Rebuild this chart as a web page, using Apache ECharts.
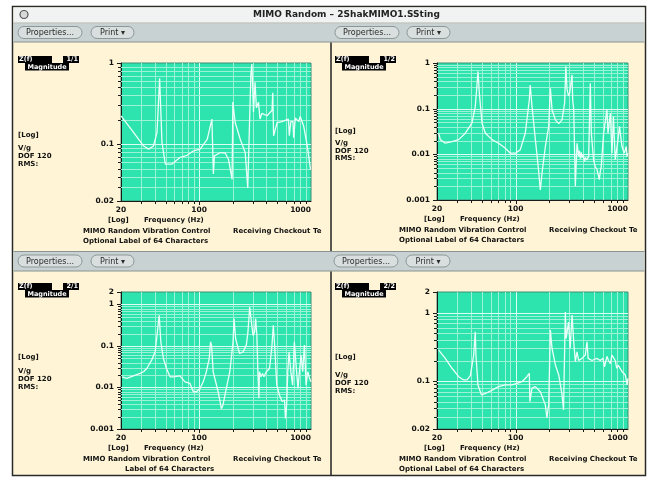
<!DOCTYPE html>
<html>
<head>
<meta charset="utf-8">
<script src="https://cdn.jsdelivr.net/npm/echarts@6/dist/echarts.min.js"></script>
<style>
  html, body { margin: 0; padding: 0; background: #ffffff; }
  #c { width: 654px; height: 482px; }
</style>
</head>
<body>
<div id="c"></div>
<script>
// ---- Frequency response magnitudes (V/g) for each drive/response pair ----
const freq11 = [20, 25.9, 31.9, 35.3, 39, 42, 44.3, 46.5, 49.8, 51.6, 57.2, 67.8, 77.9, 89.2, 102, 118, 130, 134, 137, 155, 171, 183, 197, 200, 210, 233, 258, 272, 278, 290, 296, 306, 316, 325, 339, 350, 364, 404, 448, 455, 463, 498, 550, 628, 640, 660, 690, 700, 724, 778, 800, 862, 926, 990];
const mag11  = [0.224, 0.14, 0.095, 0.087, 0.095, 0.14, 0.65, 0.105, 0.057, 0.054, 0.057, 0.069, 0.073, 0.083, 0.087, 0.115, 0.204, 0.043, 0.072, 0.079, 0.078, 0.065, 0.037, 0.33, 0.185, 0.115, 0.079, 0.029, 0.087, 0.73, 0.97, 0.25, 0.58, 0.28, 0.33, 0.204, 0.24, 0.224, 0.26, 0.43, 0.127, 0.185, 0.19, 0.204, 0.127, 0.19, 0.19, 0.12, 0.21, 0.19, 0.22, 0.165, 0.095, 0.049];

const freq12 = [20.7, 21.4, 23.7, 27.2, 31.2, 35.7, 40.9, 43.8, 45.3, 46.3, 47.6, 50.3, 53.9, 61.7, 70.7, 81.1, 89.8, 99.5, 110, 122, 132.5, 135, 140, 150, 160, 166, 172, 184, 197, 204, 211, 226, 242, 259, 273, 280, 287, 296, 303, 318, 322, 329, 340, 352, 364, 370, 377, 384, 390, 400, 410, 418, 430, 447, 462, 472, 494, 510, 530, 545, 556, 567, 578, 607, 650, 664, 697, 720, 742, 770, 815, 840, 884, 927, 965, 980, 1000];
const mag12  = [0.029, 0.021, 0.0175, 0.019, 0.021, 0.029, 0.048, 0.112, 0.31, 0.66, 0.22, 0.048, 0.029, 0.021, 0.0175, 0.0136, 0.0106, 0.0106, 0.0125, 0.029, 0.157, 0.33, 0.112, 0.021, 0.0046, 0.00166, 0.0039, 0.0148, 0.041, 0.28, 0.095, 0.057, 0.047, 0.057, 0.132, 0.85, 0.26, 0.19, 0.22, 0.55, 0.157, 0.095, 0.002, 0.0175, 0.009, 0.012, 0.008, 0.011, 0.0085, 0.0095, 0.007, 0.0085, 0.0075, 0.009, 0.36, 0.029, 0.0076, 0.0055, 0.0046, 0.0035, 0.0028, 0.0042, 0.0054, 0.029, 0.095, 0.029, 0.08, 0.0106, 0.068, 0.0076, 0.021, 0.041, 0.0148, 0.0106, 0.0148, 0.009, 0.0106];

const freq21 = [20.4, 22.5, 25.8, 29.7, 31.8, 34, 37.6, 40.4, 42.3, 43.9, 45.4, 47.9, 51, 54.9, 58.8, 67.2, 74.7, 82.8, 85.5, 88.6, 94.9, 101.6, 108.7, 116, 123, 126.5, 129, 133.4, 147.8, 158, 163, 175, 188, 201, 205, 212, 223, 230, 247, 264, 273, 283, 292, 303, 313, 320, 328, 335, 342, 346, 357, 369, 380, 398, 426, 448, 460, 473, 494, 522, 552, 580, 591, 605, 620, 636, 660, 685, 710, 735, 765, 787, 815, 843, 873, 904, 935, 968, 1000];
const mag21  = [0.0181, 0.0165, 0.019, 0.0218, 0.024, 0.0287, 0.0455, 0.0723, 0.218, 0.55, 0.126, 0.05, 0.0287, 0.0181, 0.0181, 0.019, 0.0137, 0.0125, 0.0137, 0.0079, 0.0079, 0.0095, 0.0137, 0.024, 0.05, 0.126, 0.105, 0.024, 0.0079, 0.0031, 0.0037, 0.0095, 0.024, 0.126, 0.457, 0.15, 0.087, 0.066, 0.072, 0.105, 0.218, 0.87, 0.417, 0.18, 0.218, 0.457, 0.18, 0.024, 0.0055, 0.024, 0.0181, 0.0218, 0.0181, 0.024, 0.0287, 0.105, 0.316, 0.105, 0.0114, 0.0066, 0.0046, 0.005, 0.0018, 0.0037, 0.024, 0.072, 0.024, 0.0114, 0.126, 0.035, 0.0095, 0.024, 0.06, 0.024, 0.105, 0.0114, 0.024, 0.017, 0.0137];

const freq22 = [20.7, 23.7, 27.2, 31.2, 34.5, 37, 39.6, 42.4, 43.8, 44.4, 46.3, 49.7, 54, 61.9, 70.6, 81, 93, 103, 114, 126, 132.5, 134, 140, 150, 166, 184, 190, 197, 204, 211, 226, 242, 259, 267, 277, 282, 296, 306, 318, 329, 340, 352, 364, 390, 417, 432, 442, 478, 528, 566, 585, 598, 618, 650, 670, 697, 720, 770, 794, 820, 884, 947, 980, 1000];
const mag22  = [0.284, 0.215, 0.154, 0.116, 0.104, 0.104, 0.12, 0.24, 0.525, 0.24, 0.088, 0.063, 0.066, 0.074, 0.083, 0.088, 0.088, 0.093, 0.098, 0.116, 0.13, 0.05, 0.079, 0.083, 0.07, 0.045, 0.029, 0.045, 0.555, 0.3, 0.172, 0.123, 0.063, 0.038, 1.02, 0.42, 0.73, 0.3, 0.92, 0.375, 0.192, 0.267, 0.2, 0.215, 0.24, 0.375, 0.215, 0.2, 0.215, 0.2, 0.192, 0.215, 0.162, 0.23, 0.2, 0.18, 0.24, 0.2, 0.154, 0.17, 0.138, 0.123, 0.088, 0.11];

// ---- Axis ranges ----
const freqRange = [20, 1000];
const magRange11 = [0.02, 1];
const magRange12 = [0.001, 1];
const magRange21 = [0.001, 2];
const magRange22 = [0.02, 2];

// ---- Grid line frequencies on the log frequency axis ----
const xGridFreqs = [30, 40, 50, 60, 70, 80, 90, 100, 200, 300, 400, 500, 600, 700, 800, 900];
const xMajorFreqs = [100];

// ---- Panel texts ----
const panelIds = ['1/1', '1/2', '2/1', '2/2'];
const bottomNotes = ['Optional Label of 64 Characters', 'Optional Label of 64 Characters', 'Label of 64 Characters', 'Optional Label of 64 Characters'];
const windowTitle = 'MIMO Random \u2013 2ShakMIMO1.SSting';

const FONT = '"DejaVu Sans", Verdana, sans-serif';
const CREAM = '#fff5d6';
const BAR = '#c9d2d2';
const PLOT = '#2ee4ae';

// Plot rectangles (left, top, width, height) for the four panels
const plotBoxes = [
  [121, 63, 190, 138],
  [437, 63, 191, 137],
  [121, 292, 190, 137],
  [437, 292, 191, 137]
];

const panels = [
  { f: freq11, m: mag11, r: magRange11 },
  { f: freq12, m: mag12, r: magRange12 },
  { f: freq21, m: mag21, r: magRange21 },
  { f: freq22, m: mag22, r: magRange22 }
];

function gridItems(yr) {
  const items = [];
  xGridFreqs.forEach(f => items.push([f, yr[0], 0, xMajorFreqs.indexOf(f) >= 0 ? 1 : 0]));
  const d0 = Math.floor(Math.log10(yr[0]) + 1e-9), d1 = Math.ceil(Math.log10(yr[1]) - 1e-9);
  for (let d = d0; d <= d1; d++) {
    for (let k = 1; k <= 9; k++) {
      const v = +(k * Math.pow(10, d)).toPrecision(4);
      if (v > yr[0] * 1.0001 && v < yr[1] * 0.9999) items.push([freqRange[0], v, 1, k === 1 ? 1 : 0]);
      else if (Math.abs(v - yr[0]) / yr[0] < 1e-4 || Math.abs(v - yr[1]) / yr[1] < 1e-4) items.push([freqRange[0], v, 2, 1]);
    }
  }
  return items;
}

function renderGrid(params, api) {
  const cs = params.coordSys;
  const kind = api.value(2), major = api.value(3);
  const p = api.coord([api.value(0), api.value(1)]);
  const stroke = major ? '#dcfff3' : '#9cf2d5';
  if (kind === 0) {
    const x = Math.round(p[0]) + 0.5, yb = cs.y + cs.height;
    return { type: 'group', children: [
      { type: 'line', shape: { x1: x, y1: cs.y, x2: x, y2: yb }, style: { stroke, lineWidth: 1 } },
      { type: 'line', shape: { x1: x, y1: yb, x2: x, y2: yb + (major ? 4 : 3) }, style: { stroke: '#1a1a1a', lineWidth: 1 } }
    ] };
  }
  const y = Math.round(p[1]) + 0.5, xl = cs.x;
  const children = [
    { type: 'line', shape: { x1: xl - (major ? 4 : 3), y1: y, x2: xl, y2: y }, style: { stroke: '#1a1a1a', lineWidth: 1 } }
  ];
  if (kind === 1) children.push({ type: 'line', shape: { x1: xl, y1: y, x2: xl + cs.width, y2: y }, style: { stroke, lineWidth: 1 } });
  return { type: 'group', children };
}

const fmt = v => String(+(+v).toPrecision(6));

const grid = [], xAxis = [], yAxis = [], series = [];
panels.forEach((p, i) => {
  const b = plotBoxes[i];
  grid.push({ left: b[0], top: b[1], width: b[2], height: b[3], show: true, backgroundColor: PLOT, borderColor: '#3f8c76', borderWidth: 1, containLabel: false });
  xAxis.push({
    type: 'log', logBase: 10, gridIndex: i, min: freqRange[0], max: freqRange[1],
    axisLine: { show: true, lineStyle: { color: '#1a1a1a', width: 1 } },
    axisTick: { show: false }, splitLine: { show: false },
    axisLabel: { show: true, margin: 5, fontSize: 7.5, fontWeight: 'bold', fontFamily: FONT, color: '#111', formatter: fmt, showMinLabel: true, showMaxLabel: true, alignMaxLabel: 'right' }
  });
  yAxis.push({
    type: 'log', logBase: 10, gridIndex: i, min: p.r[0], max: p.r[1],
    axisLine: { show: true, lineStyle: { color: '#1a1a1a', width: 1 } },
    axisTick: { show: false }, splitLine: { show: false },
    axisLabel: { show: true, margin: 7, fontSize: 7.5, fontWeight: 'bold', fontFamily: FONT, color: '#111', formatter: fmt, showMinLabel: true, showMaxLabel: true }
  });
  series.push({
    type: 'custom', xAxisIndex: i, yAxisIndex: i, z: 1, silent: true, clip: false, animation: false,
    data: gridItems(p.r), renderItem: renderGrid
  });
  series.push({
    type: 'line', xAxisIndex: i, yAxisIndex: i, z: 3, silent: true, animation: false,
    showSymbol: false, symbol: 'none', clip: true,
    lineStyle: { color: '#e9fff7', width: 1.3 },
    data: p.f.map((f, k) => [f, p.m[k]])
  });
});

// ---- Window chrome ----
const g = [];
function rect(x, y, w, h, fill, o) {
  o = o || {};
  g.push({ type: 'rect', z: o.z !== undefined ? o.z : -10, silent: true,
    shape: { x, y, width: w, height: h, r: o.r || 0 },
    style: { fill, stroke: o.stroke || null, lineWidth: o.lw || 1 } });
}
function hline(x1, x2, y, stroke, lw, z) {
  g.push({ type: 'line', z: z !== undefined ? z : -9, silent: true, shape: { x1, y1: y, x2, y2: y }, style: { stroke, lineWidth: lw || 1 } });
}
function vline(x, y1, y2, stroke, lw, z) {
  g.push({ type: 'line', z: z !== undefined ? z : -9, silent: true, shape: { x1: x, y1, x2: x, y2 }, style: { stroke, lineWidth: lw || 1 } });
}
function text(x, y, s, size, o) {
  o = o || {};
  g.push({ type: 'text', z: 20, silent: true, x, y,
    style: { text: s, font: (o.weight || 'bold') + ' ' + size + 'px ' + FONT, fill: o.fill || '#111',
      textAlign: o.align || 'left', textVerticalAlign: 'middle' } });
}
function button(x, y, w, label) {
  rect(x, y, w, 12, '#d9dfdf', { z: 5, r: 6, stroke: '#8d9797', lw: 1 });
  text(x + w / 2, y + 6.5, label, 8, { weight: 'normal', fill: '#2b2b2b', align: 'center' });
}
function tag(x, y, id) {
  rect(x, y, 34, 7, '#000', { z: 5 });
  rect(x + 45, y, 16, 7, '#000', { z: 5 });
  rect(x + 7, y + 7, 44, 7.5, '#000', { z: 5 });
  text(x + 1, y + 3.8, 'Z(f)', 6.5, { fill: '#fff' });
  text(x + 60, y + 3.8, id, 6.5, { fill: '#fff', align: 'right' });
  text(x + 29, y + 11, 'Magnitude', 6.5, { fill: '#fff', align: 'center' });
}

// window body, title bar, button bars
rect(12.5, 6.5, 633, 469, CREAM, { stroke: '#2a2a2a', lw: 1.5 });
rect(13.5, 7.5, 631, 15.5, '#f1f3f3');
hline(13.5, 644.5, 23, '#a9b1b1');
rect(13.5, 23.5, 631, 18.5, BAR);
hline(13.5, 644.5, 42, '#8a9494');
rect(13.5, 251.5, 631, 19.5, BAR);
hline(13.5, 644.5, 251.5, '#8a9494');
hline(13.5, 644.5, 271, '#8a9494');
vline(331, 42.5, 251, '#222', 1.5);
vline(331, 271.5, 475, '#222', 1.5);

// title
g.push({ type: 'circle', z: 5, silent: true, shape: { cx: 24, cy: 14.5, r: 4 }, style: { fill: '#d8d8d8', stroke: '#555', lineWidth: 1.2 } });
text(253, 15, windowTitle, 9, { fill: '#222' });

// buttons
button(18, 26.5, 64, 'Properties...');
button(91, 26.5, 43, 'Print \u25BE');
button(335, 26.5, 64, 'Properties...');
button(407, 26.5, 43, 'Print \u25BE');
button(18, 255, 64, 'Properties...');
button(91, 255, 43, 'Print \u25BE');
button(334, 255, 64, 'Properties...');
button(406, 255, 44, 'Print \u25BE');

// per-panel side and footer texts
const sideY = [[135, 148, 156, 164], [131, 143, 151, 158.5], [357, 371, 379, 387], [357, 375, 383, 391]];
const tagPos = [[18, 56], [335, 56], [18, 283], [335, 283]];
plotBoxes.forEach((b, i) => {
  tag(tagPos[i][0], tagPos[i][1], panelIds[i]);
  const lx = tagPos[i][0];
  text(lx, sideY[i][0], '[Log]', 7);
  text(lx, sideY[i][1], 'V/g', 7);
  text(lx, sideY[i][2], 'DOF 120', 7);
  text(lx, sideY[i][3], 'RMS:', 7);
  const bot = b[1] + b[3];
  text(b[0] - 13, bot + 19.5, '[Log]', 7);
  text(b[0] + 23, bot + 19.5, 'Frequency (Hz)', 7);
  text(b[0] - 38, bot + 30, 'MIMO Random Vibration Control', 7);
  text(b[0] + 112, bot + 30, 'Receiving Checkout Te', 7);
  if (i === 2) text(b[0] + 4, bot + 40.5, bottomNotes[i], 7);
  else text(b[0] - 38, bot + 40.5, bottomNotes[i], 7);
});

const chart = echarts.init(document.getElementById('c'), null, { renderer: 'canvas' });
chart.setOption({
  animation: false,
  backgroundColor: '#ffffff',
  grid, xAxis, yAxis, series,
  graphic: { elements: g }
});
</script>
</body>
</html>
